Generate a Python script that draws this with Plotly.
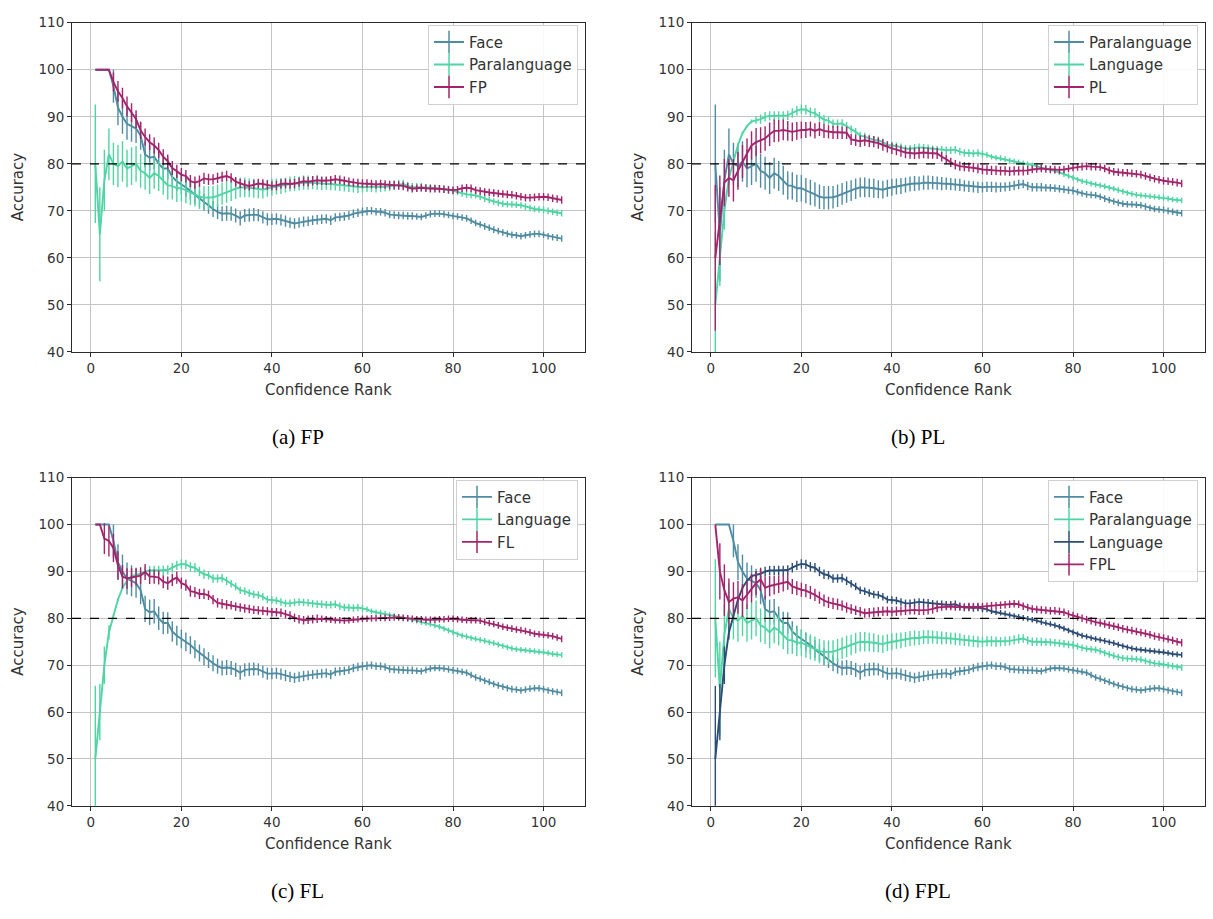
import plotly.graph_objects as go

# ---------------------------------------------------------------- data
rank = list(range(1, 105))

face = [100, 100, 100, 100, 96.5, 92.0, 90.0, 88.5, 88.0, 87.5,
        86.0, 82.0, 81.3, 81.5, 80.0, 79.0, 79.0, 77.2, 76.3, 75.6,
        75.0, 74.3, 73.4, 72.6, 71.8, 71.1, 70.4, 69.8, 69.4, 69.5,
        69.4, 69.0, 68.4, 69.0, 69.1, 69.2, 69.1, 68.6, 68.2, 68.2,
        68.3, 68.1, 67.8, 67.5, 67.3, 67.5, 67.7, 67.8, 68.0, 68.1,
        68.2, 68.3, 68.0, 68.6, 68.7, 68.8, 69.0, 69.4, 69.6, 69.8,
        69.9, 70.0, 69.8, 69.8, 69.6, 69.2, 69.1, 69.0, 69.0, 68.9,
        68.9, 68.8, 68.7, 69.0, 69.3, 69.4, 69.4, 69.3, 69.1, 68.9,
        68.8, 68.6, 68.4, 67.9, 67.4, 67.1, 66.7, 66.4, 66.0, 65.7,
        65.4, 65.1, 64.9, 64.8, 64.6, 64.8, 65.0, 65.1, 65.1, 64.9,
        64.6, 64.4, 64.3, 64.1]
face_err = [0, 0, 0, 0, 3.5, 3.8, 3.6, 3.4, 3.3, 3.1,
            3.0, 2.8, 2.7, 2.6, 2.5, 2.4, 2.3, 2.2, 2.1, 2.0,
            2.0, 1.9, 1.9, 1.8, 1.8, 1.7, 1.7, 1.6, 1.6, 1.6,
            1.5, 1.5, 1.5, 1.4, 1.4, 1.4, 1.3, 1.3, 1.3, 1.2,
            1.2, 1.2, 1.2, 1.1, 1.1, 1.1, 1.1, 1.0, 1.0, 1.0,
            1.0, 1.0, 1.0, 0.9, 0.9, 0.9, 0.9, 0.9, 0.9, 0.9,
            0.9, 0.8, 0.8, 0.8, 0.8, 0.8, 0.8, 0.8, 0.8, 0.8,
            0.8, 0.7, 0.7, 0.7, 0.7, 0.7, 0.7, 0.7, 0.7, 0.7,
            0.7, 0.7, 0.7, 0.7, 0.7, 0.7, 0.7, 0.7, 0.7, 0.7,
            0.7, 0.7, 0.7, 0.7, 0.7, 0.7, 0.7, 0.7, 0.7, 0.7,
            0.7, 0.7, 0.7, 0.7]

para = [80.0, 65.0, 76.5, 82.0, 80.0, 79.5, 80.5, 79.0, 79.5, 80.0,
        78.5, 78.0, 77.0, 78.0, 77.4, 76.5, 75.4, 75.3, 74.8, 74.8,
        74.3, 73.9, 73.5, 73.0, 72.8, 72.8, 72.9, 73.2, 73.6, 74.0,
        74.3, 74.7, 75.0, 75.0, 74.9, 74.8, 74.6, 74.5, 74.8, 75.0,
        75.2, 75.3, 75.5, 75.7, 75.8, 75.8, 76.0, 76.0, 76.0, 75.9,
        75.8, 75.8, 75.7, 75.6, 75.5, 75.3, 75.2, 75.1, 75.0, 75.0,
        75.1, 75.1, 75.0, 75.0, 75.1, 75.2, 75.4, 75.6, 75.7, 75.3,
        75.0, 75.0, 75.0, 74.9, 74.9, 74.8, 74.7, 74.6, 74.4, 74.3,
        74.0, 73.7, 73.5, 73.4, 73.3, 73.0, 72.6, 72.3, 72.0, 71.7,
        71.5, 71.4, 71.4, 71.3, 71.2, 70.9, 70.6, 70.4, 70.3, 70.2,
        70.0, 69.8, 69.6, 69.5]
para_err = [12.6, 10.0, 6.5, 5.5, 4.5, 4.5, 4.3, 4.0, 4.0, 3.8,
            3.6, 3.5, 3.4, 3.3, 3.2, 3.1, 3.0, 2.9, 2.9, 2.8,
            2.7, 2.7, 2.6, 2.6, 2.5, 2.5, 2.4, 2.4, 2.3, 2.3,
            2.2, 2.2, 2.1, 2.1, 2.0, 2.0, 1.9, 1.9, 1.8, 1.8,
            1.7, 1.7, 1.6, 1.6, 1.6, 1.5, 1.5, 1.5, 1.4, 1.4,
            1.4, 1.3, 1.3, 1.3, 1.3, 1.2, 1.2, 1.2, 1.2, 1.1,
            1.1, 1.1, 1.1, 1.0, 1.0, 1.0, 1.0, 1.0, 0.9, 0.9,
            0.9, 0.9, 0.9, 0.8, 0.8, 0.8, 0.8, 0.8, 0.8, 0.8,
            0.7, 0.7, 0.7, 0.7, 0.7, 0.7, 0.7, 0.7, 0.7, 0.7,
            0.7, 0.7, 0.7, 0.7, 0.7, 0.7, 0.7, 0.7, 0.7, 0.7,
            0.7, 0.7, 0.7, 0.7]

lang = [50.0, 60.0, 70.0, 77.0, 80.5, 84.0, 86.5, 88.0, 89.0, 89.3,
        89.5, 90.0, 90.2, 90.2, 90.2, 90.2, 90.3, 90.8, 91.3, 91.6,
        91.5, 91.0, 90.8, 90.0, 89.4, 89.2, 88.5, 88.5, 88.6, 88.0,
        87.4, 86.8, 86.0, 85.8, 85.4, 85.1, 85.0, 84.6, 84.0, 83.9,
        83.8, 83.5, 83.2, 83.2, 83.4, 83.5, 83.4, 83.3, 83.1, 83.0,
        83.0, 82.9, 82.9, 83.0, 82.6, 82.3, 82.3, 82.2, 82.3, 82.1,
        81.9, 81.5, 81.3, 81.2, 81.0, 80.7, 80.5, 80.3, 80.1, 79.9,
        79.7, 79.5, 79.2, 79.0, 78.8, 78.5, 78.2, 77.8, 77.4, 77.0,
        76.6, 76.3, 76.1, 75.8, 75.6, 75.4, 75.2, 74.9, 74.7, 74.4,
        74.1, 73.8, 73.6, 73.4, 73.3, 73.2, 73.1, 73.0, 72.9, 72.8,
        72.6, 72.4, 72.3, 72.2]
lang_err = [15.6, 6.0, 4.0, 1.5, 0.3, 0.3, 0.3, 0.3, 0.4, 0.8,
            1.0, 1.0, 1.0, 1.0, 1.0, 1.0, 1.0, 1.0, 1.0, 1.0,
            1.0, 1.0, 1.0, 1.0, 1.0, 0.9, 0.9, 0.9, 0.9, 0.9,
            0.8, 0.8, 0.8, 0.8, 0.8, 0.8, 0.8, 0.8, 0.8, 0.8,
            0.8, 0.8, 0.8, 0.8, 0.8, 0.8, 0.8, 0.8, 0.8, 0.8,
            0.8, 0.8, 0.8, 0.8, 0.8, 0.8, 0.8, 0.8, 0.8, 0.8,
            0.6, 0.6, 0.6, 0.6, 0.6, 0.6, 0.6, 0.6, 0.6, 0.6,
            0.6, 0.6, 0.6, 0.6, 0.6, 0.6, 0.6, 0.6, 0.6, 0.6,
            0.6, 0.6, 0.6, 0.6, 0.6, 0.6, 0.6, 0.6, 0.6, 0.6,
            0.6, 0.6, 0.6, 0.6, 0.6, 0.6, 0.6, 0.6, 0.6, 0.6,
            0.6, 0.6, 0.6, 0.6]

fp = [100, 100, 100, 100, 97.4, 95.4, 94.0, 92.2, 90.9, 89.5,
      87.1, 85.7, 84.6, 83.9, 82.9, 81.5, 80.5, 79.1, 78.4, 77.7,
      77.4, 76.3, 76.0, 76.3, 76.9, 76.7, 76.7, 77.0, 77.2, 77.4,
      77.0, 76.2, 75.8, 75.5, 75.3, 75.6, 75.8, 75.7, 75.5, 75.3,
      75.4, 75.7, 75.8, 75.7, 75.8, 76.1, 76.3, 76.2, 76.4, 76.5,
      76.4, 76.4, 76.5, 76.7, 76.6, 76.4, 76.2, 76.0, 75.9, 75.8,
      75.8, 75.7, 75.6, 75.7, 75.6, 75.5, 75.5, 75.4, 75.3, 75.0,
      74.7, 74.8, 74.9, 74.8, 74.7, 74.7, 74.7, 74.6, 74.5, 74.4,
      74.5, 74.8, 74.9, 74.8, 74.4, 74.2, 74.0, 73.9, 73.8, 73.7,
      73.6, 73.5, 73.4, 73.2, 73.0, 72.8, 72.8, 72.9, 73.0, 73.0,
      72.9, 72.7, 72.5, 72.3]
fp_err = [0, 0, 0, 0, 2.0, 2.2, 2.2, 2.1, 2.0, 1.9,
          1.8, 1.8, 1.7, 1.7, 1.6, 1.6, 1.5, 1.5, 1.4, 1.4,
          1.3, 1.3, 1.3, 1.2, 1.2, 1.2, 1.1, 1.1, 1.1, 1.1,
          1.0, 1.0, 1.0, 1.0, 1.0, 1.0, 1.0, 1.0, 1.0, 1.0,
          1.0, 1.0, 1.0, 1.0, 1.0, 1.0, 1.0, 1.0, 1.0, 1.0,
          0.9, 0.9, 0.9, 0.9, 0.9, 0.9, 0.9, 0.9, 0.9, 0.9,
          0.9, 0.9, 0.9, 0.9, 0.9, 0.9, 0.9, 0.9, 0.9, 0.9,
          0.8, 0.8, 0.8, 0.8, 0.8, 0.8, 0.8, 0.8, 0.8, 0.8,
          0.8, 0.8, 0.8, 0.8, 0.8, 0.8, 0.8, 0.8, 0.8, 0.8,
          0.8, 0.8, 0.8, 0.8, 0.8, 0.8, 0.8, 0.8, 0.8, 0.8,
          0.8, 0.8, 0.8, 0.8]

pl = [60.0, 68.0, 76.0, 77.0, 76.5, 78.5, 80.5, 82.2, 83.9, 84.6,
      85.0, 85.4, 86.3, 87.0, 87.0, 87.2, 87.0, 86.8, 87.0, 87.2,
      87.2, 87.4, 87.0, 87.4, 87.0, 86.8, 86.7, 86.7, 86.6, 86.6,
      85.2, 85.0, 84.8, 85.0, 84.8, 84.7, 84.4, 84.0, 83.6, 83.3,
      83.0, 82.7, 82.4, 82.3, 82.2, 82.3, 82.4, 82.3, 82.3, 82.2,
      81.5, 81.0, 80.3, 79.8, 79.5, 79.4, 79.3, 79.2, 79.0, 78.8,
      78.7, 78.6, 78.6, 78.5, 78.5, 78.4, 78.5, 78.5, 78.5, 78.6,
      78.8, 78.9, 79.0, 78.9, 78.8, 78.8, 78.7, 78.8, 79.0, 79.2,
      79.3, 79.4, 79.5, 79.4, 79.4, 79.3, 79.0, 78.6, 78.3, 78.2,
      78.1, 78.1, 78.0, 77.9, 77.7, 77.4, 77.1, 76.8, 76.6, 76.4,
      76.3, 76.2, 76.0, 75.8]
pl_err = [15.5, 9.5, 5.0, 4.0, 4.5, 4.0, 3.5, 3.2, 3.0, 3.0,
          2.8, 2.6, 2.5, 2.4, 2.3, 2.2, 2.1, 2.0, 1.9, 1.8,
          1.7, 1.6, 1.6, 1.5, 1.5, 1.4, 1.4, 1.4, 1.3, 1.3,
          1.2, 1.2, 1.2, 1.2, 1.2, 1.2, 1.2, 1.2, 1.2, 1.2,
          1.2, 1.2, 1.2, 1.2, 1.2, 1.2, 1.2, 1.2, 1.2, 1.2,
          1.0, 1.0, 1.0, 1.0, 1.0, 1.0, 1.0, 1.0, 1.0, 1.0,
          1.0, 1.0, 1.0, 1.0, 1.0, 1.0, 1.0, 1.0, 1.0, 1.0,
          0.8, 0.8, 0.8, 0.8, 0.8, 0.8, 0.8, 0.8, 0.8, 0.8,
          0.8, 0.8, 0.8, 0.8, 0.8, 0.8, 0.8, 0.8, 0.8, 0.8,
          0.8, 0.8, 0.8, 0.8, 0.8, 0.8, 0.8, 0.8, 0.8, 0.8,
          0.8, 0.8, 0.8, 0.8]

fl = [100, 100, 97.0, 96.5, 95.0, 91.3, 88.9, 88.5, 88.7, 88.9,
      89.1, 89.9, 88.9, 88.9, 88.7, 87.8, 87.5, 88.2, 88.7, 87.5,
      87.1, 85.8, 85.6, 85.2, 85.2, 84.9, 84.0, 83.3, 83.1, 82.9,
      82.8, 82.5, 82.3, 82.1, 82.0, 81.8, 81.7, 81.6, 81.5, 81.3,
      81.3, 81.2, 80.9, 80.6, 80.1, 79.8, 79.6, 79.7, 79.8, 79.9,
      79.9, 79.8, 79.7, 79.6, 79.6, 79.5, 79.6, 79.7, 79.8, 79.9,
      79.9, 80.0, 80.0, 80.1, 80.1, 80.1, 80.2, 80.2, 80.1, 80.0,
      79.9, 79.8, 79.8, 79.7, 79.7, 79.7, 79.8, 79.8, 79.9, 79.9,
      79.8, 79.7, 79.6, 79.6, 79.6, 79.5, 79.2, 79.0, 78.8, 78.5,
      78.2, 78.0, 77.8, 77.6, 77.5, 77.3, 77.0, 76.7, 76.6, 76.5,
      76.4, 76.2, 75.9, 75.6]
fl_err = [0, 0, 3.3, 3.3, 3.0, 3.0, 2.5, 2.2, 2.0, 1.9,
          1.8, 1.7, 1.6, 1.5, 1.5, 1.4, 1.4, 1.3, 1.3, 1.2,
          1.2, 1.2, 1.1, 1.1, 1.1, 1.0, 1.0, 1.0, 1.0, 1.0,
          0.9, 0.9, 0.9, 0.9, 0.9, 0.9, 0.9, 0.9, 0.9, 0.9,
          0.9, 0.9, 0.9, 0.9, 0.9, 0.9, 0.9, 0.9, 0.9, 0.9,
          0.7, 0.7, 0.7, 0.7, 0.7, 0.7, 0.7, 0.7, 0.7, 0.7,
          0.7, 0.7, 0.7, 0.7, 0.7, 0.7, 0.7, 0.7, 0.7, 0.7,
          0.7, 0.7, 0.7, 0.7, 0.7, 0.7, 0.7, 0.7, 0.7, 0.7,
          0.7, 0.7, 0.7, 0.7, 0.7, 0.7, 0.7, 0.7, 0.7, 0.7,
          0.7, 0.7, 0.7, 0.7, 0.7, 0.7, 0.7, 0.7, 0.7, 0.7,
          0.7, 0.7, 0.7, 0.7]

fpl = [100, 90.0, 86.0, 83.5, 84.2, 84.5, 83.8, 85.0, 86.4, 87.5,
       88.3, 86.5, 86.9, 87.1, 87.3, 87.5, 87.8, 86.8, 86.4, 86.1,
       85.9, 85.5, 85.0, 84.4, 83.8, 83.4, 83.2, 83.0, 82.7, 82.3,
       82.0, 81.7, 81.4, 81.1, 81.2, 81.3, 81.4, 81.5, 81.5, 81.4,
       81.5, 81.6, 81.7, 81.8, 81.8, 81.7, 81.7, 81.8, 82.0, 82.3,
       82.4, 82.5, 82.5, 82.4, 82.4, 82.4, 82.5, 82.5, 82.5, 82.5,
       82.6, 82.7, 82.7, 82.8, 82.9, 83.0, 83.1, 83.0, 82.6, 82.3,
       82.0, 81.9, 81.8, 81.7, 81.6, 81.6, 81.5, 81.3, 80.9, 80.6,
       80.3, 80.0, 79.7, 79.5, 79.2, 79.0, 78.8, 78.5, 78.3, 78.1,
       77.8, 77.6, 77.4, 77.2, 77.0, 76.8, 76.5, 76.2, 76.0, 75.8,
       75.6, 75.3, 75.0, 74.8]
fpl_err = [0, 6.0, 5.5, 5.0, 3.5, 3.5, 3.5, 3.0, 3.0, 2.5,
           2.5, 2.5, 2.2, 2.0, 1.9, 1.8, 1.7, 1.6, 1.5, 1.5,
           1.4, 1.4, 1.3, 1.3, 1.3, 1.2, 1.2, 1.2, 1.1, 1.1,
           1.0, 1.0, 1.0, 1.0, 1.0, 1.0, 1.0, 1.0, 1.0, 1.0,
           1.0, 1.0, 1.0, 1.0, 1.0, 1.0, 1.0, 1.0, 1.0, 1.0,
           0.8, 0.8, 0.8, 0.8, 0.8, 0.8, 0.8, 0.8, 0.8, 0.8,
           0.8, 0.8, 0.8, 0.8, 0.8, 0.8, 0.8, 0.8, 0.8, 0.8,
           0.8, 0.8, 0.8, 0.8, 0.8, 0.8, 0.8, 0.8, 0.8, 0.8,
           0.8, 0.8, 0.8, 0.8, 0.8, 0.8, 0.8, 0.8, 0.8, 0.8,
           0.8, 0.8, 0.8, 0.8, 0.8, 0.8, 0.8, 0.8, 0.8, 0.8,
           0.8, 0.8, 0.8, 0.8]

x_ticks = [0, 20, 40, 60, 80, 100]
y_ticks = [40, 50, 60, 70, 80, 90, 100, 110]
threshold = 80

# ---------------------------------------------------------------- style
TEAL = "#4f8ca1"
MINT = "#4fd4a3"
NAVY = "#2c4d75"
PLUM = "#a1246c"
FONT = "DejaVu Sans"
TXT = "#333333"

W, H = 1213, 919

panels = [
    dict(caption="(a) FP",
         series=[("Face", face, face_err, TEAL),
                 ("Paralanguage", para, para_err, MINT),
                 ("FP", fp, fp_err, PLUM)]),
    dict(caption="(b) PL",
         series=[("Paralanguage", para, para_err, TEAL),
                 ("Language", lang, lang_err, MINT),
                 ("PL", pl, pl_err, PLUM)]),
    dict(caption="(c) FL",
         series=[("Face", face, face_err, TEAL),
                 ("Language", lang, lang_err, MINT),
                 ("FL", fl, fl_err, PLUM)]),
    dict(caption="(d) FPL",
         series=[("Face", face, face_err, TEAL),
                 ("Paralanguage", para, para_err, MINT),
                 ("Language", lang, lang_err, NAVY),
                 ("FPL", fpl, fpl_err, PLUM)]),
]

# pixel boxes of the four axes: (left, right, top, bottom)
boxes = [(72, 585, 15, 350), (692, 1205, 15, 350),
         (72, 585, 478, 812), (692, 1205, 478, 812)]


def px_x(v):
    return v / W


def px_y(v):
    return (H - v) / H


fig = go.Figure()
layout = dict(
    width=W, height=H, margin=dict(l=0, r=0, t=0, b=0),
    paper_bgcolor="white", plot_bgcolor="white",
    font=dict(family=FONT, size=13, color=TXT),
    showlegend=True,
    annotations=[], shapes=[],
)

for i, (panel, box) in enumerate(zip(panels, boxes)):
    k = "" if i == 0 else str(i + 1)
    xa, ya = "x" + k, "y" + k
    leg = "legend" + k
    left, right, top, bottom = box

    for name, vals, err, color in panel["series"]:
        fig.add_trace(go.Scatter(
            x=rank, y=vals, mode="lines", xaxis=xa, yaxis=ya,
            line=dict(color=color, width=1.9),
            error_y=dict(type="data", array=err, visible=True,
                         width=0, thickness=1.4, color=color),
            showlegend=False, hoverinfo="skip"))
    for name, vals, err, color in panel["series"]:
        fig.add_trace(go.Scatter(
            x=[None], y=[None], mode="lines+markers", name=name,
            xaxis=xa, yaxis=ya, legend=leg,
            line=dict(color=color, width=1.9),
            marker=dict(symbol="line-ns", size=16,
                        line=dict(color=color, width=1.5))))

    axis_common = dict(
        showgrid=True, gridcolor="#c4c4c4", gridwidth=1,
        showline=True, linecolor="#2b2b2b", linewidth=1, mirror=True,
        ticks="outside", ticklen=4, tickcolor="#2b2b2b",
        tickfont=dict(family=FONT, size=13.5, color=TXT),
        zeroline=False, fixedrange=True,
    )
    layout["xaxis" + k] = dict(
        axis_common, domain=[px_x(left), px_x(right)], anchor=ya,
        range=[-4.15, 109.15], tickvals=x_ticks)
    layout["yaxis" + k] = dict(
        axis_common, domain=[px_y(bottom), px_y(top)], anchor=xa,
        range=[40, 110], tickvals=y_ticks)

    layout["shapes"].append(dict(
        type="line", xref=xa + " domain", yref=ya, x0=0, x1=1,
        y0=threshold, y1=threshold, layer="above",
        line=dict(color="black", width=1.3, dash="dash")))

    layout[leg] = dict(
        x=px_x(right - 7), y=px_y(top + 2), xanchor="right", yanchor="top",
        bgcolor="rgba(255,255,255,0.9)", bordercolor="#d0d0d0", borderwidth=1,
        font=dict(family=FONT, size=15, color=TXT),
        itemwidth=30, tracegroupgap=0)

    mid = (left + right) / 2
    layout["annotations"] += [
        dict(text="Confidence Rank", xref="paper", yref="paper",
             x=px_x(mid), y=px_y(bottom + 39), showarrow=False,
             xanchor="center", yanchor="middle",
             font=dict(family=FONT, size=15, color=TXT)),
        dict(text="Accuracy", xref="paper", yref="paper", textangle=-90,
             x=px_x(left - 54), y=px_y((top + bottom) / 2), showarrow=False,
             xanchor="center", yanchor="middle",
             font=dict(family=FONT, size=15, color=TXT)),
        dict(text=panel["caption"], xref="paper", yref="paper",
             x=px_x(mid - 31), y=px_y(bottom + 87), showarrow=False,
             xanchor="center", yanchor="middle",
             font=dict(family="Liberation Serif", size=21, color="black")),
    ]

fig.update_layout(**layout)
fig.write_html("out.html")
